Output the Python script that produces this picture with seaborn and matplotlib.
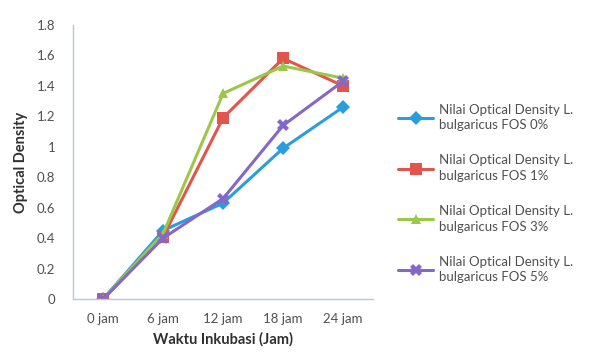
import matplotlib
matplotlib.use("Agg")
import matplotlib.pyplot as plt
import seaborn as sns
import pandas as pd
from matplotlib.ticker import FixedLocator

# Data: optical density of L. bulgaricus per incubation time and FOS level
waktu = ["0 jam", "6 jam", "12 jam", "18 jam", "24 jam"]
fos_0 = [0.00, 0.45, 0.63, 0.99, 1.26]
fos_1 = [0.00, 0.41, 1.19, 1.58, 1.40]
fos_3 = [0.00, 0.43, 1.35, 1.53, 1.45]
fos_5 = [0.00, 0.40, 0.66, 1.14, 1.43]
seri = [
    "Nilai Optical Density L.\nbulgaricus FOS 0%",
    "Nilai Optical Density L.\nbulgaricus FOS 1%",
    "Nilai Optical Density L.\nbulgaricus FOS 3%",
    "Nilai Optical Density L.\nbulgaricus FOS 5%",
]
y_ticks = [0, 0.2, 0.4, 0.6, 0.8, 1, 1.2, 1.4, 1.6, 1.8]
y_labels = ["0", "0.2", "0.4", "0.6", "0.8", "1", "1.2", "1.4", "1.6", "1.8"]

rows = []
for name, vals in zip(seri, [fos_0, fos_1, fos_3, fos_5]):
    for i, v in enumerate(vals):
        rows.append({"idx": i, "od": v, "seri": name})
df = pd.DataFrame(rows)

sns.set_theme(style="white")
plt.rcParams["font.family"] = ["Lato", "DejaVu Sans"]

colors = ["#2a9ddc", "#e2554c", "#9cc84a", "#8468c9"]
markers = ["D", "s", "^", "X"]
sizes = [7, 9, 7.5, 8]

fig = plt.figure(figsize=(5.95, 3.56), dpi=100)
ax = fig.add_axes([0.123, 0.160, 0.504, 0.770])

for name, c, m, s in zip(seri, colors, markers, sizes):
    sns.lineplot(data=df[df["seri"] == name], x="idx", y="od", ax=ax,
                 color=c, marker=m, markersize=s, markeredgewidth=0,
                 linewidth=2.2, label=name)

ax.set_xlim(-0.5, 4.5)
ax.set_ylim(0, 1.8)
ax.set_xticks(range(len(waktu)))
ax.set_xticklabels(waktu)
ax.xaxis.set_minor_locator(FixedLocator([0.5, 1.5, 2.5, 3.5]))
ax.set_yticks(y_ticks)
ax.set_yticklabels(y_labels)
ax.tick_params(axis="both", which="major", labelsize=9.5, colors="#505050",
               length=0)
ax.tick_params(axis="y", which="major", pad=13)
ax.tick_params(axis="x", which="major", pad=10)
ax.tick_params(axis="x", which="minor", length=3, color="#b8c8d8",
               direction="out")
ax.set_xlabel("Waktu Inkubasi (Jam)", fontsize=10.5, fontweight="bold",
              color="#303030", labelpad=5)
ax.set_ylabel("Optical Density", fontsize=10.5, fontweight="bold",
              color="#303030", labelpad=6)

for side in ["top", "right"]:
    ax.spines[side].set_visible(False)
for side in ["left", "bottom"]:
    ax.spines[side].set_color("#b8c8d8")
    ax.spines[side].set_linewidth(1.0)

leg = ax.legend(loc="center left", bbox_to_anchor=(1.045, 0.385),
                frameon=False, fontsize=9.5, handlelength=2.6,
                labelspacing=1.75, handletextpad=0.45, labelcolor="#505050")
for t in leg.get_texts():
    t.set_linespacing(1.35)

fig.savefig("out.png", dpi=100, facecolor="white")
